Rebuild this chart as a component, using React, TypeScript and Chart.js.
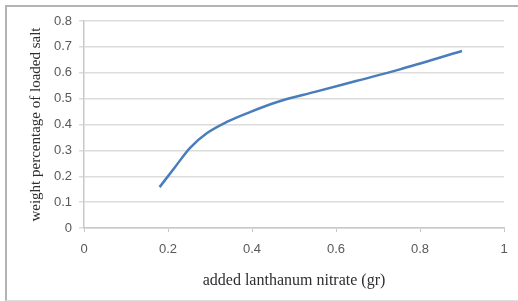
import React, { useEffect, useRef } from "react";
import { Chart, registerables } from "chart.js";

Chart.register(...registerables);

const xValues = [0.18, 0.217, 0.252, 0.293, 0.34, 0.395, 0.46, 0.55, 0.65, 0.75, 0.9];
const yValues = [0.158, 0.236, 0.309, 0.367, 0.41, 0.448, 0.487, 0.526, 0.569, 0.612, 0.684];
const xTitle = "added lanthanum nitrate (gr)";
const yTitle = "weight percentage of loaded salt";

const fmt = (v: number | string) => String(parseFloat(Number(v).toFixed(2)));

export default function App() {
  const ref = useRef<HTMLCanvasElement | null>(null);

  useEffect(() => {
    if (!ref.current) return;
    const data = xValues.map((x, i) => ({ x, y: yValues[i] }));
    const chart = new Chart(ref.current, {
      type: "line",
      data: {
        datasets: [
          {
            data,
            borderColor: "#4a7ebb",
            borderWidth: 2.5,
            pointRadius: 0,
            fill: false,
            cubicInterpolationMode: "monotone",
          },
        ],
      },
      options: {
        animation: false,
        responsive: false,
        maintainAspectRatio: false,
        devicePixelRatio: 1,
        layout: { padding: { top: 21, right: 14, bottom: 0, left: 0 } },
        plugins: { legend: { display: false }, tooltip: { enabled: false } },
        scales: {
          x: {
            type: "linear",
            min: 0,
            max: 1,
            afterFit: (s: any) => {
              s.height = 73;
            },
            ticks: {
              stepSize: 0.2,
              padding: 10,
              color: "#595959",
              font: { family: "'Liberation Sans'", size: 13 },
              maxRotation: 0,
              callback: (v: any) => fmt(v),
            },
            grid: {
              drawOnChartArea: false,
              drawTicks: true,
              tickLength: 4,
              color: "#c8c8c8",
            },
            border: { display: true, color: "#c8c8c8", width: 1.5 },
            title: {
              display: true,
              text: xTitle,
              color: "#2e2e2e",
              font: { family: "'Liberation Serif'", size: 16 },
              padding: { top: 0, bottom: 11 },
            },
          },
          y: {
            min: 0,
            max: 0.8,
            afterFit: (s: any) => {
              s.width = 84;
            },
            ticks: {
              stepSize: 0.1,
              padding: 7,
              color: "#595959",
              font: { family: "'Liberation Sans'", size: 13 },
              callback: (v: any) => fmt(v),
            },
            grid: {
              color: "#dcdcdc",
              lineWidth: 1.5,
              tickLength: 5,
            },
            border: { display: true, color: "#c8c8c8", width: 1.5 },
            title: {
              display: true,
              text: yTitle,
              color: "#2e2e2e",
              font: { family: "'Liberation Serif'", size: 15 },
              padding: { top: 27, bottom: 0 },
            },
          },
        },
      },
    });
    return () => chart.destroy();
  }, []);

  return (
    <div
      style={{
        position: "fixed",
        left: 0,
        top: 0,
        width: 518,
        height: 301,
        background: "#ffffff",
        overflow: "hidden",
      }}
    >
      <div
        style={{
          position: "absolute",
          left: 5,
          top: 5,
          width: 540,
          height: 293,
          borderLeft: "2px solid #b4b4b4",
          borderTop: "2px solid #b4b4b4",
          borderBottom: "1px solid #dedede",
        }}
      />
      <canvas
        ref={ref}
        width={518}
        height={301}
        style={{ position: "absolute", left: 0, top: 0, width: 518, height: 301 }}
      />
    </div>
  );
}
